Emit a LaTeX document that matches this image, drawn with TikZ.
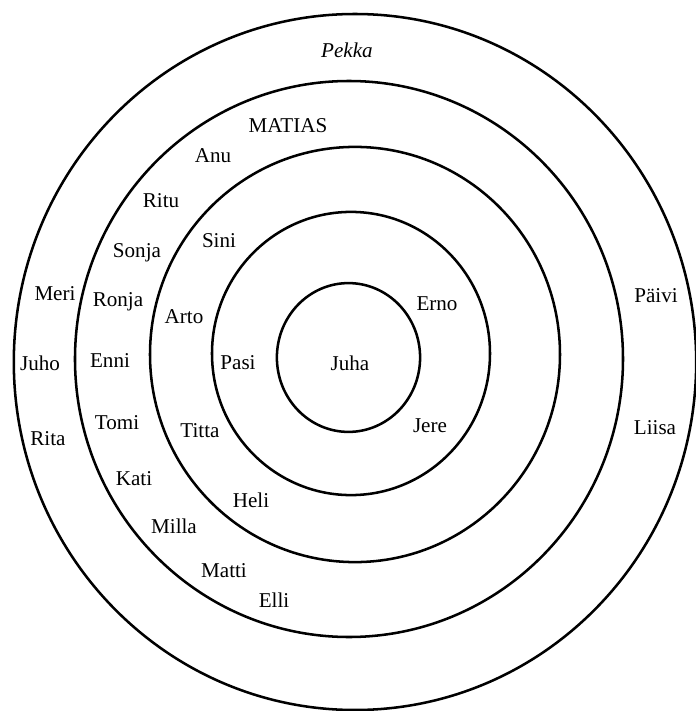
\documentclass[tikz,border=0pt]{standalone}
\usepackage{fontspec}
\setmainfont{Liberation Serif}
\usepackage{tikz}
\usepackage{xcolor}
\usetikzlibrary{positioning,calc}
\definecolor{ink}{HTML}{000000}
\tikzset{
  ring/.style={draw=ink,line width=1.8pt},
  member/.style={anchor=base,inner sep=0pt,text=ink,
                 font=\fontsize{15}{18}\selectfont},
  leader/.style={member,font=\fontsize{15}{18}\selectfont\itshape}
}

\begin{document}
\begin{tikzpicture}[x=1cm,y=1cm]
    \path[use as bounding box] (-8.8,-8.825) rectangle (8.6,8.95);
    % rings, inside out
    \draw[ring] (-0.0875,0.0125) ellipse [x radius=1.79,y radius=1.86];
    \draw[ring] (-0.025,0.1125) ellipse [x radius=3.475,y radius=3.54];
    \draw[ring] (0.075,0.0875) ellipse [x radius=5.125,y radius=5.19];
    \draw[ring] (-0.075,-0.025) ellipse [x radius=6.85,y radius=6.95];
    \draw[ring] (0.075,-0.1) ellipse [x radius=8.53,y radius=8.7];
    % centre
    \node[member] (juha) at (-0.05,-0.3) {Juha};
    % second ring
    \node[member] (erno) at (2.125,1.2) {Erno};
    \node[member] (pasi) at (-2.85,-0.275) {Pasi};
    \node[member] (jere) at (1.95,-1.85) {Jere};
    % third ring
    \node[member] (sini) at (-3.325,2.775) {Sini};
    \node[member] (arto) at (-4.2,0.875) {Arto};
    \node[member] (titta) at (-3.8,-1.975) {Titta};
    \node[member] (heli) at (-2.525,-3.725) {Heli};
    % fourth ring
    \node[member] (matias) at (-1.6,5.65) {MATIAS};
    \node[member] (anu) at (-3.475,4.9) {Anu};
    \node[member] (ritu) at (-4.775,3.775) {Ritu};
    \node[member] (sonja) at (-5.375,2.525) {Sonja};
    \node[member] (ronja) at (-5.85,1.3) {Ronja};
    \node[member] (enni) at (-6.05,-0.225) {Enni};
    \node[member] (tomi) at (-5.875,-1.775) {Tomi};
    \node[member] (kati) at (-5.45,-3.175) {Kati};
    \node[member] (milla) at (-4.45,-4.375) {Milla};
    \node[member] (matti) at (-3.2,-5.475) {Matti};
    \node[member] (elli) at (-1.95,-6.225) {Elli};
    % outer ring
    \node[leader] (pekka) at (-0.125,7.5) {Pekka};
    \node[member] (meri) at (-7.425,1.45) {Meri};
    \node[member] (juho) at (-7.8,-0.3) {Juho};
    \node[member] (rita) at (-7.6,-2.175) {Rita};
    \node[member] (paivi) at (7.6,1.4) {Päivi};
    \node[member] (liisa) at (7.575,-1.9) {Liisa};
  \end{tikzpicture}
\end{document}
